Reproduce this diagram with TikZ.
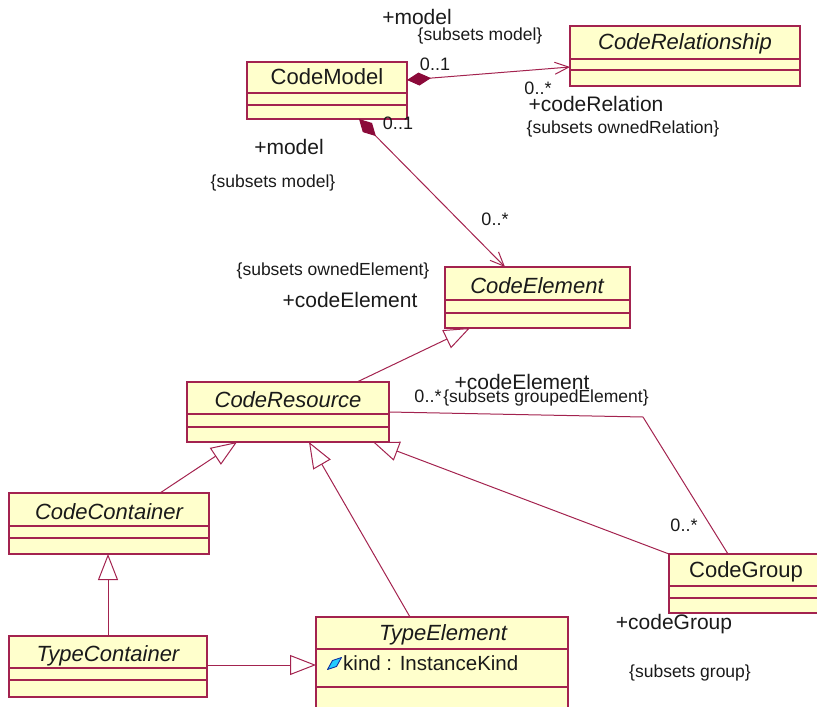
\documentclass[tikz,border=0pt]{standalone}
\usepackage{fontspec}
\setmainfont{Liberation Sans}
\usetikzlibrary{arrows.meta,shapes.geometric}

\definecolor{umlline}{HTML}{A3234F}
\definecolor{umldark}{HTML}{8B0A3A}
\definecolor{umlfill}{HTML}{FFFFCC}
\definecolor{umltext}{HTML}{1A1A1A}
\definecolor{iconfill}{HTML}{22CCFF}
\definecolor{iconedge}{HTML}{1030A0}

\begin{document}
\begin{tikzpicture}[x=1pt,y=-1pt,
  classbox/.style={draw=umlline, fill=umlfill, line width=1.3pt, rectangle,
    anchor=north west, inner sep=0pt, outer sep=0pt},
  compart/.style={draw=umlline, line width=1.3pt},
  clsname/.style={font=\fontsize{22}{26}\selectfont, text=umltext, inner sep=0pt},
  absname/.style={clsname, font=\fontsize{22}{26}\selectfont\itshape},
  attrtext/.style={font=\fontsize{20.5}{24}\selectfont, text=umltext, inner sep=0pt, anchor=west},
  rolelbl/.style={font=\fontsize{21}{25}\selectfont, text=umltext, inner sep=0pt},
  cstrlbl/.style={font=\fontsize{17.5}{21}\selectfont, text=umltext, inner sep=0pt},
  multlbl/.style={font=\fontsize{18}{21}\selectfont, text=umltext, inner sep=0pt},
  assoc/.style={draw=umlline, line width=1pt},
  composite/.style={assoc,
    {Diamond[length=24pt,width=13pt,fill=umldark,color=umldark]}-{Straight Barb[length=14pt,width=12pt]}},
  generalize/.style={assoc, -{Triangle[length=26pt,width=20pt,fill=white]}},
]
\useasboundingbox (0,0) rectangle (817,707);
\clip (0,0) rectangle (817,707);

% ---------- classes ----------
% CodeModel
\node[classbox, minimum width=160pt, minimum height=57pt] (cm) at (247,62) {};
\draw[compart] (cm.west |- 0,93) -- (cm.east |- 0,93);
\draw[compart] (cm.west |- 0,105) -- (cm.east |- 0,105);
\node[clsname] (cmname) at (327,77) {CodeModel};

% CodeRelationship
\node[classbox, minimum width=230pt, minimum height=60pt] (cr) at (570,26) {};
\draw[compart] (cr.west |- 0,59) -- (cr.east |- 0,59);
\draw[compart] (cr.west |- 0,70) -- (cr.east |- 0,70);
\node[absname] (crname) at (685,44) {CodeRelationship};

% CodeElement
\node[classbox, minimum width=185pt, minimum height=61pt] (ce) at (445,267) {};
\draw[compart] (ce.west |- 0,300) -- (ce.east |- 0,300);
\draw[compart] (ce.west |- 0,313) -- (ce.east |- 0,313);
\node[absname] (cename) at (537,286) {CodeElement};

% CodeResource
\node[classbox, minimum width=202pt, minimum height=60pt] (cres) at (187,382) {};
\draw[compart] (cres.west |- 0,414) -- (cres.east |- 0,414);
\draw[compart] (cres.west |- 0,427) -- (cres.east |- 0,427);
\node[absname] (cresname) at (288,400) {CodeResource};

% CodeContainer
\node[classbox, minimum width=200pt, minimum height=61pt] (cc) at (9,493) {};
\draw[compart] (cc.west |- 0,526) -- (cc.east |- 0,526);
\draw[compart] (cc.west |- 0,538) -- (cc.east |- 0,538);
\node[absname] (ccname) at (109,512) {CodeContainer};

% CodeGroup
\node[classbox, minimum width=154pt, minimum height=59pt] (cg) at (669,554) {};
\draw[compart] (cg.west |- 0,586) -- (cg.east |- 0,586);
\draw[compart] (cg.west |- 0,598) -- (cg.east |- 0,598);
\node[clsname] (cgname) at (746,572) {CodeGroup};

% TypeContainer
\node[classbox, minimum width=198pt, minimum height=61pt] (tc) at (9,636) {};
\draw[compart] (tc.west |- 0,668) -- (tc.east |- 0,668);
\draw[compart] (tc.west |- 0,680) -- (tc.east |- 0,680);
\node[absname] (tcname) at (108,656) {TypeContainer};

% TypeElement with its attribute
\node[classbox, minimum width=252pt, minimum height=92pt] (te) at (316,617) {};
\draw[compart] (te.west |- 0,649) -- (te.east |- 0,649);
\draw[compart] (te.west |- 0,687) -- (te.east |- 0,687);
\node[absname] (tename) at (443,635) {TypeElement};
% public-attribute marker
\draw[draw=iconedge, fill=iconfill, line width=0.9pt, line join=round]
  (327.5,669.5) -- (336.5,666.5) -- (341.5,657.5) -- (332.5,660.5) -- cycle;
\node[attrtext] (kindattr) at (343,663) {kind : InstanceKind};

% ---------- compositions ----------
\draw[composite] (cm.east |- 0,80) -- (cr.west |- 0,67);
\draw[composite] (cm.south -| 359,0) -- (ce.north -| 505,0);

% ---------- generalizations ----------
\draw[generalize] (cres.north -| 357,0) -- (ce.south -| 470,0);
\draw[generalize] (cc.north -| 160,0) -- (cres.south -| 237,0);
\draw[generalize] (te.north -| 410,0) -- (cres.south -| 309,0);
\draw[generalize] (cg.north west) -- (cres.south -| 373,0);
\draw[generalize] (tc.north) -- (tc.north |- cc.south);
\draw[generalize] (tc.east |- 0,665) -- (te.west |- 0,665);

% ---------- association CodeResource -- CodeGroup ----------
\coordinate (bend) at (643,417);
\draw[assoc] (cres.east |- 0,412) -- (bend) -- (cg.north -| 728,0);

% ---------- end labels ----------
\node[rolelbl] (l1) at (417,17) {+model};
\node[cstrlbl] (l2) at (480,36) {\{subsets model\}};
\node[multlbl] (l3) at (435,64) {0..1};
\node[multlbl] (l4) at (538,88) {0..*};
\node[rolelbl] (l5) at (596,104) {+codeRelation};
\node[cstrlbl] (l6) at (623,129) {\{subsets ownedRelation\}};

\node[multlbl] (l7) at (398,123) {0..1};
\node[rolelbl] (l8) at (289,147) {+model};
\node[cstrlbl] (l9) at (273,183) {\{subsets model\}};
\node[multlbl] (l10) at (495,219) {0..*};
\node[cstrlbl] (l11) at (333,271) {\{subsets ownedElement\}};
\node[rolelbl] (l12) at (350,300) {+codeElement};

\node[multlbl] (l13) at (428,396) {0..*};
\node[rolelbl] (l14) at (522,382) {+codeElement};
\node[cstrlbl] (l15) at (546,398) {\{subsets groupedElement\}};
\node[multlbl] (l16) at (684,525) {0..*};
\node[rolelbl] (l17) at (674,624) {+codeGroup};
\node[cstrlbl] (l18) at (690,673) {\{subsets group\}};
\end{tikzpicture}
\end{document}
